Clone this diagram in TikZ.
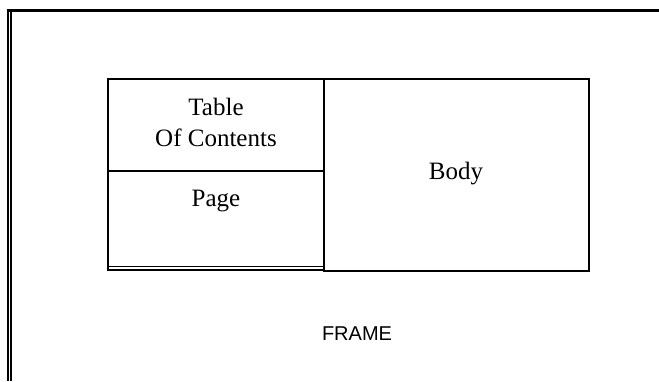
\documentclass[tikz,border=0pt]{standalone}
\usepackage{fontspec}
\setmainfont{Liberation Serif}
\newfontfamily\framefont{Liberation Sans}
\begin{document}
\begin{tikzpicture}[x=1pt,y=-1pt,
  boxline/.style={line width=1.8pt},
  lbl/.style={inner sep=0pt, anchor=base, font=\fontsize{25}{29}\selectfont},
  framelbl/.style={inner sep=0pt, anchor=base, font=\framefont\fontsize{20}{24}\selectfont}]
\useasboundingbox (0,0) rectangle (659,381);
% frame
\draw[line width=3pt] (6.8,10.5) -- (659,10.5);
\draw[line width=1.8pt] (7.8,9) -- (7.8,381);
\draw[line width=1.6pt] (11.2,12) -- (11.2,381);
% left column
\draw[boxline] (108,266.5) -- (108,79) -- (324,79);
\draw[boxline] (108,171) -- (324,171);
\draw[boxline] (107.1,266.5) -- (324,266.5);
\draw[boxline] (107.1,269.6) -- (324,269.6);
\draw[boxline] (108,266) -- (108,270.5);
% body
\draw[boxline] (324,79) rectangle (589,271);
% labels
\node[lbl] (toc1) at (216,115) {Table};
\node[lbl] (toc2) at (216,146) {Of Contents};
\node[lbl] (page) at (216,206) {Page};
\node[lbl] (body) at (456,179) {Body};
\node[framelbl] (frame) at (357,340) {FRAME};
\end{tikzpicture}
\end{document}
